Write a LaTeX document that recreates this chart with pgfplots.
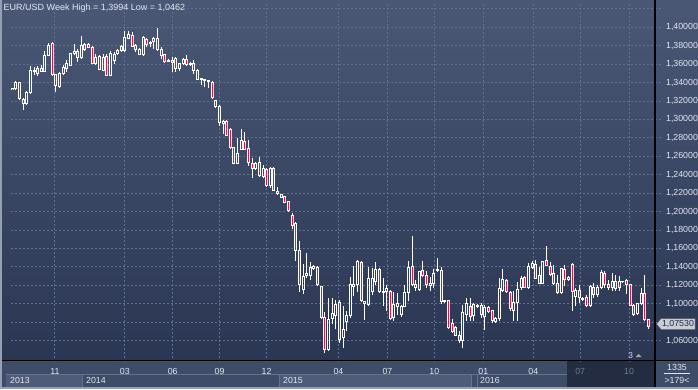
\documentclass[border=0pt]{standalone}
\usepackage{pgfplots}
\pgfplotsset{compat=1.18}
\usepackage{pgfplotstable}
\usepackage{fontspec}
\setmainfont{Liberation Sans}
\definecolor{bgtop}{RGB}{74,88,118}
\definecolor{bgbot}{RGB}{42,54,82}
\definecolor{gridc}{RGB}{96,112,144}
\definecolor{rowbg}{RGB}{62,76,104}
\definecolor{yearbg}{RGB}{78,92,122}
\definecolor{yearln}{RGB}{100,114,142}
\definecolor{navbg}{RGB}{36,44,66}
\definecolor{txt}{RGB}{226,232,240}
\definecolor{dimtxt}{RGB}{108,122,150}
\definecolor{bear}{RGB}{232,16,60}
\definecolor{edge}{RGB}{150,160,178}
\definecolor{tagbg}{RGB}{200,205,214}
\definecolor{tagtxt}{RGB}{30,42,68}

\pgfplotstableread{
i o h l c
0 1.3335 1.3340 1.3328 1.3333
1 1.3333 1.3412 1.3326 1.3398
2 1.3398 1.3410 1.3218 1.3225
3 1.3218 1.3232 1.3106 1.3178
4 1.3171 1.3305 1.3164 1.3290
5 1.3290 1.3575 1.3285 1.3531
6 1.3520 1.3568 1.3477 1.3535
7 1.3500 1.3578 1.3470 1.3557
8 1.3557 1.3590 1.3510 1.3521
9 1.3521 1.3737 1.3512 1.3694
10 1.3694 1.3831 1.3687 1.3802
11 1.3820 1.3838 1.3477 1.3485
12 1.3485 1.3495 1.3297 1.3369
13 1.3355 1.3513 1.3344 1.3495
14 1.3495 1.3590 1.3480 1.3568
15 1.3550 1.3640 1.3513 1.3604
16 1.3590 1.3720 1.3580 1.3712
17 1.3712 1.3820 1.3694 1.3737
18 1.3737 1.3766 1.3622 1.3676
19 1.3676 1.3900 1.3660 1.3802
20 1.3760 1.3830 1.3740 1.3810
21 1.3810 1.3830 1.3770 1.3785
22 1.3785 1.3800 1.3600 1.3610
23 1.3610 1.3712 1.3586 1.3676
24 1.3684 1.3700 1.3532 1.3543
25 1.3532 1.3712 1.3521 1.3676
26 1.3684 1.3712 1.3470 1.3477
27 1.3477 1.3740 1.3470 1.3712
28 1.3640 1.3730 1.3604 1.3700
29 1.3712 1.3766 1.3694 1.3748
30 1.3748 1.3810 1.3730 1.3795
31 1.3750 1.3964 1.3730 1.3892
32 1.3881 1.3964 1.3875 1.3917
33 1.3910 1.3946 1.3784 1.3795
34 1.3802 1.3820 1.3730 1.3759
35 1.3759 1.3770 1.3700 1.3705
36 1.3700 1.3910 1.3694 1.3892
37 1.3867 1.3881 1.3784 1.3809
38 1.3820 1.3856 1.3784 1.3838
39 1.3845 1.3892 1.3766 1.3881
40 1.3881 1.3994 1.3750 1.3755
41 1.3759 1.3784 1.3658 1.3694
42 1.3704 1.3712 1.3614 1.3629
43 1.3629 1.3658 1.3622 1.3640
44 1.3622 1.3676 1.3513 1.3640
45 1.3658 1.3676 1.3513 1.3550
46 1.3550 1.3614 1.3524 1.3604
47 1.3604 1.3665 1.3593 1.3650
48 1.3650 1.3704 1.3586 1.3593
49 1.3593 1.3622 1.3580 1.3604
50 1.3604 1.3650 1.3495 1.3532
51 1.3532 1.3550 1.3423 1.3434
52 1.3434 1.3448 1.3369 1.3441
53 1.3423 1.3441 1.3352 1.3434
54 1.3410 1.3425 1.3341 1.3420
55 1.3398 1.3413 1.3225 1.3243
56 1.3200 1.3214 1.3128 1.3142
57 1.3135 1.3153 1.2926 1.2962
58 1.2973 1.2991 1.2847 1.2955
59 1.2980 1.2998 1.2822 1.2829
60 1.2894 1.2908 1.2677 1.2692
61 1.2692 1.2700 1.2512 1.2522
62 1.2522 1.2793 1.2512 1.2631
63 1.2677 1.2894 1.2667 1.2775
64 1.2764 1.2865 1.2667 1.2677
65 1.2684 1.2775 1.2497 1.2533
66 1.2522 1.2576 1.2360 1.2468
67 1.2468 1.2540 1.2455 1.2522
68 1.2533 1.2594 1.2371 1.2389
69 1.2378 1.2504 1.2360 1.2468
70 1.2461 1.2468 1.2270 1.2288
71 1.2288 1.2480 1.2260 1.2468
72 1.2468 1.2480 1.2230 1.2234
73 1.2223 1.2270 1.2180 1.2198
74 1.2180 1.2190 1.2150 1.2158
75 1.2162 1.2170 1.2090 1.2101
76 1.2108 1.2115 1.2000 1.2007
77 1.1957 1.1982 1.1812 1.1845
78 1.1867 1.1885 1.1467 1.1575
79 1.1575 1.1686 1.1128 1.1207
80 1.1153 1.1431 1.1106 1.1297
81 1.1308 1.1549 1.1279 1.1323
82 1.1308 1.1452 1.1261 1.1398
83 1.1387 1.1420 1.1369 1.1405
84 1.1395 1.1405 1.1189 1.1207
85 1.1182 1.1190 1.0840 1.0847
86 1.0847 1.0912 1.0462 1.0504
87 1.0504 1.1063 1.0486 1.0829
88 1.0839 1.1063 1.0775 1.0890
89 1.0876 1.1045 1.0721 1.0991
90 1.1009 1.1045 1.0576 1.0612
91 1.0630 1.0973 1.0522 1.0721
92 1.0811 1.0926 1.0703 1.0876
93 1.0876 1.1286 1.0847 1.1207
94 1.1189 1.1405 1.1081 1.1207
95 1.1207 1.1477 1.1128 1.1459
96 1.1452 1.1467 1.1020 1.1034
97 1.1002 1.1027 1.0829 1.1020
98 1.0991 1.1395 1.0973 1.1279
99 1.1135 1.1387 1.1099 1.1279
100 1.1243 1.1452 1.1207 1.1369
101 1.1369 1.1387 1.1117 1.1135
102 1.1117 1.1279 1.0973 1.1135
103 1.1135 1.1207 1.0926 1.1164
104 1.1135 1.1150 1.0830 1.0839
105 1.0847 1.1128 1.0818 1.0991
106 1.0973 1.1117 1.0883 1.0998
107 1.0883 1.0991 1.0854 1.0973
108 1.0973 1.1207 1.0962 1.1117
109 1.1117 1.1460 1.1027 1.1395
110 1.1405 1.1730 1.1189 1.1207
111 1.1207 1.1261 1.1142 1.1171
112 1.1153 1.1359 1.1135 1.1351
113 1.1359 1.1467 1.1286 1.1308
114 1.1308 1.1351 1.1171 1.1207
115 1.1200 1.1286 1.1135 1.1225
116 1.1225 1.1380 1.1171 1.1333
117 1.1359 1.1496 1.1351 1.1369
118 1.1359 1.1395 1.0998 1.1020
119 1.1020 1.1045 1.1009 1.1034
120 1.1034 1.1045 1.0731 1.0746
121 1.0782 1.0839 1.0685 1.0695
122 1.0739 1.0757 1.0649 1.0659
123 1.0659 1.0703 1.0577 1.0602
124 1.0602 1.0991 1.0522 1.0901
125 1.0883 1.1063 1.0811 1.0998
126 1.0973 1.1063 1.0811 1.0865
127 1.0876 1.1009 1.0811 1.0991
128 1.0970 1.0998 1.0955 1.0984
129 1.0984 1.1009 1.0847 1.0883
130 1.0865 1.0991 1.0710 1.0962
131 1.0962 1.0980 1.0900 1.0919
132 1.0926 1.0937 1.0793 1.0818
133 1.0804 1.0855 1.0793 1.0839
134 1.0839 1.1279 1.0818 1.1164
135 1.1142 1.1380 1.1135 1.1261
136 1.1251 1.1265 1.1120 1.1135
137 1.1124 1.1135 1.0919 1.0948
138 1.0926 1.1135 1.0818 1.1009
139 1.1009 1.1236 1.0818 1.1153
140 1.1171 1.1297 1.1153 1.1279
141 1.1286 1.1297 1.1171 1.1178
142 1.1171 1.1441 1.1164 1.1405
143 1.1395 1.1460 1.1380 1.1441
144 1.1423 1.1478 1.1272 1.1279
145 1.1308 1.1395 1.1214 1.1225
146 1.1225 1.1467 1.1214 1.1460
147 1.1467 1.1622 1.1405 1.1416
148 1.1405 1.1452 1.1297 1.1315
149 1.1323 1.1423 1.1207 1.1225
150 1.1225 1.1315 1.1106 1.1117
151 1.1117 1.1387 1.1106 1.1380
152 1.1369 1.1423 1.1189 1.1261
153 1.1261 1.1297 1.1251 1.1286
154 1.1431 1.1441 1.0926 1.1128
155 1.1081 1.1171 1.0973 1.1142
156 1.1142 1.1200 1.1009 1.1063
157 1.1045 1.1070 1.1030 1.1056
158 1.1070 1.1092 1.0962 1.0984
159 1.0984 1.1207 1.0962 1.1189
160 1.1171 1.1225 1.1063 1.1099
161 1.1099 1.1207 1.1070 1.1178
162 1.1171 1.1369 1.1164 1.1344
163 1.1323 1.1351 1.1171 1.1207
164 1.1214 1.1261 1.1153 1.1171
165 1.1171 1.1333 1.1142 1.1243
166 1.1243 1.1315 1.1142 1.1164
167 1.1171 1.1297 1.1142 1.1243
168 1.1236 1.1251 1.1225 1.1243
169 1.1251 1.1272 1.1106 1.1207
170 1.1207 1.1214 1.0973 1.0984
171 1.0984 1.0998 1.0865 1.0883
172 1.0890 1.1009 1.0876 1.0998
173 1.0998 1.1171 1.0984 1.1106
174 1.1106 1.1308 1.0818 1.0829
175 1.0829 1.0839 1.0731 1.0753
}\candles

\pgfplotsset{
  eb/.style={draw=none, mark=none, forget plot,
    error bars/.cd, y dir=plus, y explicit, error mark=none,
    error bar style={draw=#1, line width=1bp}},
}

\begin{document}
\begin{tikzpicture}[x=1bp,y=1bp]
\path[use as bounding box] (0,0) rectangle (698,389);
% backgrounds
\shade[top color=bgtop, bottom color=bgbot] (0,29) rectangle (698,389);
\fill[rowbg] (0,0) rectangle (698,29);
% year row boxes
\fill[yearbg] (6,2) rectangle (82,15);
\fill[yearbg] (279,2) rectangle (471,15);
\draw[yearln, line width=0.8bp] (6,15) -- (567,15);
\draw[yearln, line width=0.8bp] (82,2) -- (82,15) (279,2) -- (279,15) (471,2) -- (471,15) (477,2) -- (477,15);
\fill[navbg] (567,2) rectangle (655,28.5);

\begin{axis}[
  at={(3,29)}, anchor=south west,
  width=652bp, height=360bp, scale only axis,
  xmin=-0.36, xmax=179.0, ymin=1.0365, ymax=1.4271,
  axis line style={draw=none},
  major tick length=0pt,
  xtick={11.73,30.96,44.15,57.06,69.97,89.75,103.21,116.13,129.59,143.33,156.24,169.70},
  xticklabels={11,03,06,09,12,04,07,10,01,04,\textcolor{dimtxt}{07},\textcolor{dimtxt}{10}},
  ytick={1.06,1.08,1.10,1.12,1.14,1.16,1.18,1.20,1.22,1.24,1.26,1.28,1.30,1.32,1.34,1.36,1.38,1.40,1.42},
  yticklabels={{1,06000},{},{1,10000},{1,12000},{1,14000},{1,16000},{1,18000},{1,20000},{1,22000},{1,24000},{1,26000},{1,28000},{1,30000},{1,32000},{1,34000},{1,36000},{1,38000},{1,40000},{}},
  yticklabel pos=right,
  grid=major,
  major grid style={gridc, dash pattern=on 2bp off 2bp, line width=0.8bp},
  tick label style={font=\fontsize{8.8bp}{10bp}\selectfont, text=txt, inner sep=0pt},
  xticklabel style={anchor=center, yshift=-9bp},
  yticklabel style={anchor=west, xshift=3bp},
]
% lower wicks
\addplot[eb=white] table[x=i, y=l, y error plus expr={min(\thisrow{o},\thisrow{c})-\thisrow{l}}] {\candles};
% upper wicks
\addplot[eb=white] table[x=i, y expr={max(\thisrow{o},\thisrow{c})}, y error plus expr={\thisrow{h}-max(\thisrow{o},\thisrow{c})}] {\candles};
% bear interior
\addplot[eb=bear] table[x=i, y=c, y error plus expr={max(\thisrow{o}-\thisrow{c},0)}] {\candles};
% body sides
\addplot[eb=white] table[x expr={\thisrow{i}-0.2747}, y expr={min(\thisrow{o},\thisrow{c})}, y error plus expr={abs(\thisrow{c}-\thisrow{o})}] {\candles};
\addplot[eb=white] table[x expr={\thisrow{i}+0.2747}, y expr={min(\thisrow{o},\thisrow{c})}, y error plus expr={abs(\thisrow{c}-\thisrow{o})}] {\candles};
% body caps
\addplot[only marks, mark=-, mark size=1.5bp, mark options={draw=white, line width=1bp}, forget plot] table[x=i, y=o] {\candles};
\addplot[only marks, mark=-, mark size=1.5bp, mark options={draw=white, line width=1bp}, forget plot] table[x=i, y=c] {\candles};
\end{axis}

% separators
\draw[black, line width=1.2bp] (0,28.6) -- (698,28.6);
\draw[black, line width=1.2bp] (655,2) -- (655,389);
% borders
\draw[edge, line width=2bp] (1,389) -- (1,1) -- (698,1);
% year labels
\begin{scope}[every node/.style={font=\fontsize{8.8bp}{10bp}\selectfont, text=txt, inner sep=0pt, anchor=west}]
\node at (10,8.5) {2013};
\node at (86,8.5) {2014};
\node at (283,8.5) {2015};
\node at (480,8.5) {2016};
\end{scope}
% bottom right cell
\node[font=\fontsize{8.8bp}{10bp}\selectfont, text=txt, inner sep=0pt] at (677,22) {1335};
\draw[txt, line width=0.6bp] (664,15.5) -- (690,15.5);
\node[font=\fontsize{8.8bp}{10bp}\selectfont, text=txt, inner sep=0pt] at (677,8.5) {>179<};
% price tag
\filldraw[fill=tagbg, draw=gray!70!black, line width=0.5bp] (656.5,65) -- (661,70.5) -- (695,70.5) -- (695,59.5) -- (661,59.5) -- cycle;
\node[font=\fontsize{8.8bp}{10bp}\selectfont, text=tagtxt, inner sep=0pt] at (678,65) {1,07530};
% title
\node[font=\fontsize{9bp}{10bp}\selectfont, text=txt, inner sep=0pt, anchor=west] at (3.5,381) {EUR/USD Week High = 1,3994 Low = 1,0462};
% marker
\node[font=\fontsize{8.8bp}{10bp}\selectfont, text=white!80!blue, inner sep=0pt] at (630.5,34) {3};
\fill[gray!70] (635.5,32) -- (641.5,32) -- (638.5,35) -- cycle;
\end{tikzpicture}
\end{document}
